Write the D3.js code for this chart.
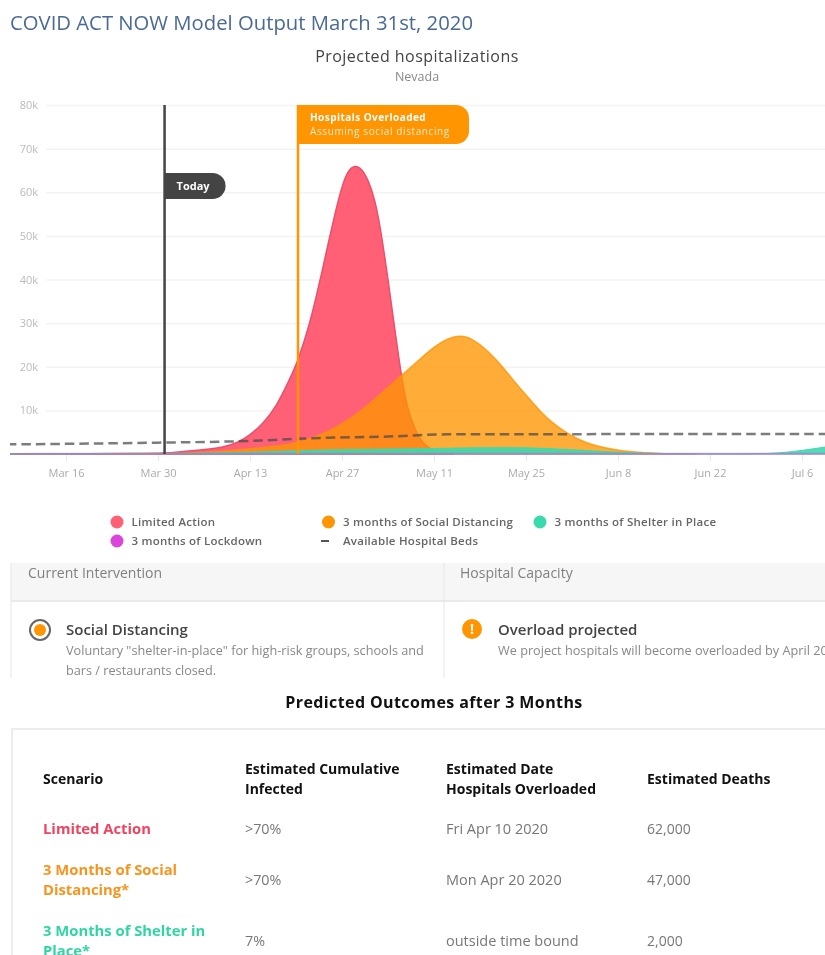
<!DOCTYPE html>
<html lang="en">
<head>
    <meta charset="UTF-8">
    <title>COVID ACT NOW Model Output</title>
    <script src="https://d3js.org/d3.v7.min.js"></script>
    <style>
        html, body { margin: 0; padding: 0; background: #fff; overflow: hidden; }
        text { font-family: "Open Sans", sans-serif; }
        /* the source is a soft screenshot */
        #chart { display: block; filter: blur(0.4px); }
    </style>
</head>
<body>
    <svg id="chart" width="825" height="955"></svg>

    <script>
        // Values
        const yTicks = [10000, 20000, 30000, 40000, 50000, 60000, 70000, 80000];
        const xTicks = ['2020-03-16', '2020-03-30', '2020-04-13', '2020-04-27', '2020-05-11', '2020-05-25', '2020-06-08', '2020-06-22', '2020-07-06'];
        const todayDate = '2020-03-31';
        const overloadDate = '2020-04-20';

        const limitedDates = ['2020-03-07', '2020-03-30', '2020-04-01', '2020-04-05', '2020-04-09', '2020-04-11', '2020-04-13', '2020-04-15', '2020-04-17', '2020-04-19', '2020-04-20', '2020-04-21', '2020-04-22', '2020-04-23', '2020-04-24', '2020-04-25', '2020-04-26', '2020-04-27', '2020-04-28', '2020-04-29', '2020-04-30', '2020-05-01', '2020-05-02', '2020-05-03', '2020-05-04', '2020-05-05', '2020-05-06', '2020-05-07', '2020-05-08', '2020-05-09', '2020-05-10', '2020-05-11', '2020-05-12', '2020-05-13', '2020-05-14'];
        const limitedValues = [0, 100, 300, 800, 1500, 2500, 4300, 7000, 10800, 17000, 20300, 24700, 29500, 35500, 42000, 49000, 55500, 61500, 65200, 66200, 65400, 62800, 58500, 50500, 40000, 29000, 18000, 10000, 6000, 3000, 1600, 800, 300, 100, 0];

        const socialDates = ['2020-03-07', '2020-03-30', '2020-04-03', '2020-04-09', '2020-04-11', '2020-04-17', '2020-04-21', '2020-04-25', '2020-04-28', '2020-05-01', '2020-05-04', '2020-05-06', '2020-05-09', '2020-05-11', '2020-05-13', '2020-05-15', '2020-05-17', '2020-05-19', '2020-05-21', '2020-05-23', '2020-05-25', '2020-05-27', '2020-05-29', '2020-05-31', '2020-06-02', '2020-06-04', '2020-06-07', '2020-06-10', '2020-06-14', '2020-06-20'];
        const socialValues = [0, 80, 200, 600, 850, 1800, 2700, 5100, 7800, 11100, 15300, 17900, 21900, 24600, 26400, 27300, 26300, 23900, 20800, 17000, 13500, 10000, 7100, 5000, 3300, 2100, 1100, 450, 100, 0];

        const shelterDates = ['2020-03-07', '2020-03-30', '2020-04-13', '2020-04-20', '2020-04-27', '2020-05-04', '2020-05-11', '2020-05-18', '2020-05-25', '2020-06-01', '2020-06-08', '2020-06-15', '2020-06-22', '2020-06-29', '2020-07-03', '2020-07-06', '2020-07-10'];
        const shelterValues = [0, 50, 350, 800, 1000, 1150, 1250, 1450, 1500, 1000, 350, 60, 20, 30, 250, 800, 1700];

        const lockdownDates = ['2020-03-07', '2020-03-30', '2020-04-13', '2020-05-11', '2020-06-08', '2020-07-10'];
        const lockdownValues = [0, 30, 40, 50, 30, 20];

        const bedsDates = ['2020-03-07', '2020-03-30', '2020-04-13', '2020-04-22', '2020-05-04', '2020-05-13', '2020-07-10'];
        const bedsValues = [2200, 2600, 3000, 3600, 4000, 4500, 4600];

        const legendLabels = ['Limited Action', '3 months of Social Distancing', '3 months of Shelter in Place', '3 months of Lockdown'];
        const tableHeaders = [['Scenario'], ['Estimated Cumulative', 'Infected'], ['Estimated Date', 'Hospitals Overloaded'], ['Estimated Deaths']];
        const scenarios = [['Limited Action'], ['3 Months of Social', 'Distancing*'], ['3 Months of Shelter in', 'Place*']];
        const infected = ['>70%', '>70%', '7%'];
        const overloaded = ['Fri Apr 10 2020', 'Mon Apr 20 2020', 'outside time bound'];
        const deaths = ['62,000', '47,000', '2,000'];

        const red = '#ff6076', orange = '#ff9500', teal = '#3bd9ae', magenta = '#db45dc';

        const svg = d3.select('#chart');
        const parse = d3.timeParse('%Y-%m-%d');

        const x = d3.scaleTime().domain([parse('2020-03-16'), parse('2020-07-06')]).range([66, 802]);
        const y = d3.scaleLinear().domain([0, 80000]).range([454, 105]);

        const zip = (dates, values) => dates.map((d, i) => ({ date: parse(d), value: values[i] }));

        const area = d3.area().x(d => x(d.date)).y0(y(0)).y1(d => y(d.value)).curve(d3.curveBasis);
        const line = d3.line().x(d => x(d.date)).y(d => y(d.value)).curve(d3.curveMonotoneX);

        // Page title and chart titles
        svg.append('text').attr('x', 10).attr('y', 30).attr('font-size', 20.3).attr('fill', '#4a6a94')
            .text('COVID ACT NOW Model Output March 31st, 2020');
        svg.append('text').attr('x', 417).attr('y', 62).attr('text-anchor', 'middle').attr('font-size', 16).attr('font-weight', 500).attr('letter-spacing', 0.45).attr('fill', '#444')
            .text('Projected hospitalizations');
        svg.append('text').attr('x', 417).attr('y', 81).attr('text-anchor', 'middle').attr('font-size', 12.5).attr('fill', '#888')
            .text('Nevada');

        svg.append('defs').append('clipPath').attr('id', 'plotClip')
            .append('rect').attr('x', 10).attr('y', 90).attr('width', 815).attr('height', 380);

        // Y axis, gridlines only
        const yAxis = svg.append('g').attr('transform', 'translate(38,0)')
            .call(d3.axisLeft(y).tickValues(yTicks).tickFormat(d => d / 1000 + 'k').tickSize(0).tickPadding(0));
        yAxis.select('.domain').remove();
        yAxis.selectAll('text').attr('font-size', 11).attr('fill', '#bbb').style('font-family', '"Open Sans", sans-serif');
        yAxis.selectAll('.tick line').attr('x1', 8).attr('x2', 790).attr('stroke', '#f3f3f3').attr('stroke-width', 1.5);

        // X axis
        const xAxis = svg.append('g').attr('transform', `translate(0,${y(0)})`)
            .call(d3.axisBottom(x).tickValues(xTicks.map(parse)).tickFormat(d3.timeFormat('%b %-d')).tickSize(7).tickPadding(8));
        xAxis.select('.domain').remove();
        xAxis.selectAll('.tick line').attr('stroke', '#e8e8e8');
        xAxis.selectAll('text').attr('font-size', 11).attr('fill', '#aaa').style('font-family', '"Open Sans", sans-serif');

        // Series
        const plot = svg.append('g').attr('clip-path', 'url(#plotClip)');
        plot.append('path').datum(zip(limitedDates, limitedValues)).attr('d', area)
            .attr('fill', red).attr('stroke', '#e9506c').attr('stroke-width', 1.5);
        plot.append('path').datum(zip(socialDates, socialValues)).attr('d', area)
            .attr('fill', orange).attr('fill-opacity', 0.78).attr('stroke', orange).attr('stroke-opacity', 0.8).attr('stroke-width', 1.5);
        plot.append('path').datum(zip(shelterDates, shelterValues)).attr('d', area)
            .attr('fill', teal).attr('fill-opacity', 0.9).attr('stroke', teal).attr('stroke-width', 1);
        plot.append('path').datum(zip(lockdownDates, lockdownValues)).attr('d', line)
            .attr('fill', 'none').attr('stroke', magenta).attr('stroke-opacity', 0.45).attr('stroke-width', 2.2);
        plot.append('path').datum(zip(bedsDates, bedsValues)).attr('d', line)
            .attr('fill', 'none').attr('stroke', '#4a4a4a').attr('stroke-opacity', 0.72).attr('stroke-width', 2.5).attr('stroke-dasharray', '9.5,5');

        // Today marker
        const todayX = x(parse(todayDate));
        svg.append('line').attr('x1', todayX).attr('x2', todayX).attr('y1', y(80000)).attr('y2', y(0))
            .attr('stroke', '#444').attr('stroke-width', 2.5);
        svg.append('path')
            .attr('d', `M${todayX},173 H${todayX + 48} a13,13 0 0 1 0,26 H${todayX} Z`)
            .attr('fill', '#444');
        svg.append('text').attr('x', todayX + 12).attr('y', 190).attr('font-size', 11).attr('font-weight', 700).attr('fill', '#fff').text('Today');

        // Hospitals overloaded marker
        const overloadX = x(parse(overloadDate)) + 2;
        svg.append('line').attr('x1', overloadX).attr('x2', overloadX).attr('y1', y(80000)).attr('y2', y(0))
            .attr('stroke', '#ff9500').attr('stroke-width', 2.5);
        svg.append('path')
            .attr('d', `M${overloadX - 1},105 H${overloadX + 158} a13,13 0 0 1 13,13 V131 a13,13 0 0 1 -13,13 H${overloadX - 1} Z`)
            .attr('fill', '#ff9500');
        svg.append('text').attr('x', overloadX + 12).attr('y', 120.5).attr('font-size', 10).attr('font-weight', 700).attr('letter-spacing', 0.45).attr('fill', '#fff').text('Hospitals Overloaded');
        svg.append('text').attr('x', overloadX + 12).attr('y', 134.5).attr('font-size', 10).attr('letter-spacing', 0.6).attr('fill', '#ffe9c8').text('Assuming social distancing');

        // Legend
        const legendRows = [
            { label: legendLabels[0], color: red, cx: 117, cy: 522 },
            { label: legendLabels[1], color: orange, cx: 328.5, cy: 522 },
            { label: legendLabels[2], color: teal, cx: 540, cy: 522 },
            { label: legendLabels[3], color: magenta, cx: 117, cy: 541 }
        ];
        const legend = svg.append('g').selectAll('g').data(legendRows).enter().append('g');
        legend.append('circle').attr('cx', d => d.cx).attr('cy', d => d.cy).attr('r', 6.5).attr('fill', d => d.color);
        legend.append('text').attr('x', d => d.cx + 14.5).attr('y', d => d.cy + 3.5)
            .attr('font-size', 11.5).attr('font-weight', 600).attr('letter-spacing', 0.25).attr('fill', '#666').text(d => d.label);
        svg.append('line').attr('x1', 321).attr('x2', 329).attr('y1', 541).attr('y2', 541).attr('stroke', '#555').attr('stroke-width', 2);
        svg.append('text').attr('x', 343).attr('y', 544.5).attr('font-size', 11.5).attr('font-weight', 600).attr('letter-spacing', 0.25).attr('fill', '#666').text('Available Hospital Beds');

        // Status panel
        svg.append('rect').attr('x', 11).attr('y', 563).attr('width', 814).attr('height', 38).attr('fill', '#f6f6f6');
        svg.append('line').attr('x1', 11).attr('x2', 825).attr('y1', 601).attr('y2', 601).attr('stroke', '#e6e6e6').attr('stroke-width', 1.5);
        svg.append('line').attr('x1', 11).attr('x2', 11).attr('y1', 563).attr('y2', 678).attr('stroke', '#e6e6e6');
        svg.append('line').attr('x1', 444).attr('x2', 444).attr('y1', 563).attr('y2', 678).attr('stroke', '#e6e6e6');
        svg.append('text').attr('x', 28).attr('y', 578).attr('font-size', 14).attr('fill', '#808080').text('Current Intervention');
        svg.append('text').attr('x', 460).attr('y', 578).attr('font-size', 14).attr('fill', '#808080').text('Hospital Capacity');

        svg.append('circle').attr('cx', 40).attr('cy', 630).attr('r', 10).attr('fill', '#fff').attr('stroke', '#666').attr('stroke-width', 2);
        svg.append('circle').attr('cx', 40).attr('cy', 630).attr('r', 6).attr('fill', orange);
        svg.append('text').attr('x', 66).attr('y', 635).attr('font-size', 15).attr('font-weight', 600).attr('fill', '#444').text('Social Distancing');
        svg.append('text').attr('x', 66).attr('y', 655).attr('font-size', 12.7).attr('fill', '#888').text('Voluntary "shelter-in-place" for high-risk groups, schools and');
        svg.append('text').attr('x', 66).attr('y', 675).attr('font-size', 12.7).attr('fill', '#888').text('bars / restaurants closed.');

        svg.append('circle').attr('cx', 472).attr('cy', 629).attr('r', 10).attr('fill', orange);
        svg.append('text').attr('x', 472).attr('y', 634).attr('text-anchor', 'middle').attr('font-size', 14).attr('font-weight', 700).attr('fill', '#fff').text('!');
        svg.append('text').attr('x', 498).attr('y', 635).attr('font-size', 15).attr('font-weight', 600).attr('fill', '#444').text('Overload projected');
        svg.append('text').attr('x', 498).attr('y', 655).attr('font-size', 12.7).attr('fill', '#888').text('We project hospitals will become overloaded by April 20');

        // Outcomes table
        svg.append('text').attr('x', 434).attr('y', 708).attr('text-anchor', 'middle').attr('font-size', 16).attr('font-weight', 700).attr('letter-spacing', 0.4).attr('fill', '#111')
            .text('Predicted Outcomes after 3 Months');
        svg.append('path').attr('d', 'M825,729 H12 V955').attr('fill', 'none').attr('stroke', '#ececec').attr('stroke-width', 2);

        const colX = [43, 245, 446, 647];
        const rowY = [829, 880, 941];
        const rowColors = ['#f0435f', '#f7941d', '#2fd6a4'];

        // multi-line cell, centred around cy
        function cell(px, cy, lines, size, weight, color) {
            const t = svg.append('text').attr('font-size', size).attr('font-weight', weight).attr('fill', color);
            lines.forEach((s, i) => {
                t.append('tspan').attr('x', px).attr('y', cy + 4.5 + (i - (lines.length - 1) / 2) * 20).text(s);
            });
        }

        tableHeaders.forEach((h, i) => cell(colX[i], 779, h, 14, 700, '#111'));
        scenarios.forEach((s, i) => {
            cell(colX[0], rowY[i], s, 14.8, 700, rowColors[i]);
            cell(colX[1], rowY[i], [infected[i]], 14.3, 400, '#777');
            cell(colX[2], rowY[i], [overloaded[i]], 14.5, 400, '#777');
            cell(colX[3], rowY[i], [deaths[i]], 14, 400, '#777');
        });
    </script>
</body>
</html>
